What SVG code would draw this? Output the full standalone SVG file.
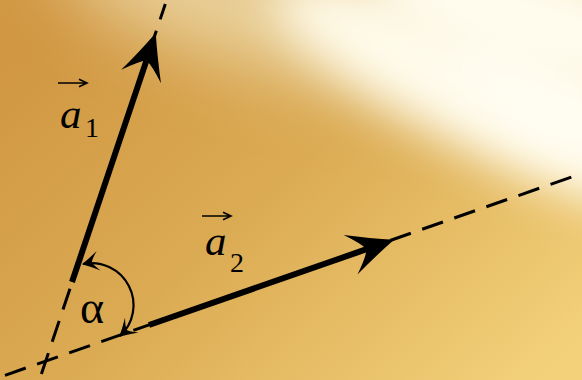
<svg xmlns="http://www.w3.org/2000/svg" width="582" height="380" viewBox="0 0 582 380">
<style>
.dash{fill:none;stroke:#000;stroke-width:3;stroke-dasharray:22 12}
.vec{fill:none;stroke:#000;stroke-width:6}
.arc{fill:none;stroke:#000;stroke-width:2.2}
.ov{fill:none;stroke:#000;stroke-width:1.6}
text{font-family:'Liberation Serif','Times New Roman',serif;fill:#000}
.it{font-style:italic;font-size:43px}
.sub{font-size:28px}
.alpha{font-size:46px}
</style>
<defs>
<linearGradient id="bg" x1="0" y1="0.2" x2="1" y2="0.9">
<stop offset="0" stop-color="#d19743"/>
<stop offset="0.45" stop-color="#dbab53"/>
<stop offset="1" stop-color="#f3d17b"/>
</linearGradient>
<filter id="blur1" filterUnits="userSpaceOnUse" x="-300" y="-300" width="1300" height="1000"><feGaussianBlur stdDeviation="35"/></filter>
<filter id="blur2" filterUnits="userSpaceOnUse" x="-300" y="-300" width="1300" height="1000"><feGaussianBlur stdDeviation="24"/></filter>
<marker id="head" markerUnits="userSpaceOnUse" orient="auto" refX="-29" refY="0" markerWidth="60" markerHeight="50" viewBox="-52 -25 60 50" overflow="visible">
<path d="M0,0 Q-22,-9 -46,-21 Q-32,-7 -29,0 Q-32,7 -46,21 Q-22,9 0,0Z" fill="#000"/>
</marker>
<marker id="small" markerUnits="userSpaceOnUse" orient="auto-start-reverse" refX="-1" refY="0" markerWidth="24" markerHeight="24" viewBox="-20 -12 24 24" overflow="visible">
<path d="M0,0 Q-8,-4 -17,-10 Q-11,-3 -10,0 Q-11,3 -17,10 Q-8,4 0,0Z" fill="#000"/>
</marker>
</defs>
<g id="background">
<rect width="582" height="380" fill="url(#bg)"/>
<ellipse cx="290" cy="15" rx="240" ry="60" fill="#e9d09a" filter="url(#blur1)" transform="rotate(14 290 15)"/>
<ellipse cx="480" cy="95" rx="230" ry="55" fill="#fffbea" filter="url(#blur2)" transform="rotate(27 480 95)"/>
<ellipse cx="550" cy="95" rx="110" ry="45" fill="#fffdf4" filter="url(#blur2)" transform="rotate(27 550 95)"/>
<ellipse cx="530" cy="20" rx="170" ry="65" fill="#fffcee" filter="url(#blur2)" transform="rotate(15 530 20)"/>
</g>
<g id="connectors">
<path id="line1" class="dash" d="M41.4,374 L165.3,4"/>
<path id="line2" class="dash" d="M5,375.3 L582,173.3"/>
</g>
<g id="vector-a1">
<path class="vec" d="M72,282 L146.5,60.4" marker-end="url(#head)"/>
<path class="ov" d="M58,83 H86 M79,79.3 L87,83 L79,86.7"/>
<text class="it" x="60" y="128">a</text>
<text class="sub" x="85" y="137">1</text>
</g>
<g id="vector-a2">
<path class="vec" d="M149,325 L366.6,249.2" marker-end="url(#head)"/>
<path class="ov" d="M202,216 H230 M223,212.3 L231,216 L223,219.7"/>
<text class="it" x="205" y="255">a</text>
<text class="sub" x="230" y="272">2</text>
</g>
<g id="angle-alpha">
<path class="arc" d="M83,264 A42 42 0 0 1 120,336" marker-start="url(#small)" marker-end="url(#small)"/>
<text class="alpha" x="80" y="323">α</text>
</g>
</svg>
